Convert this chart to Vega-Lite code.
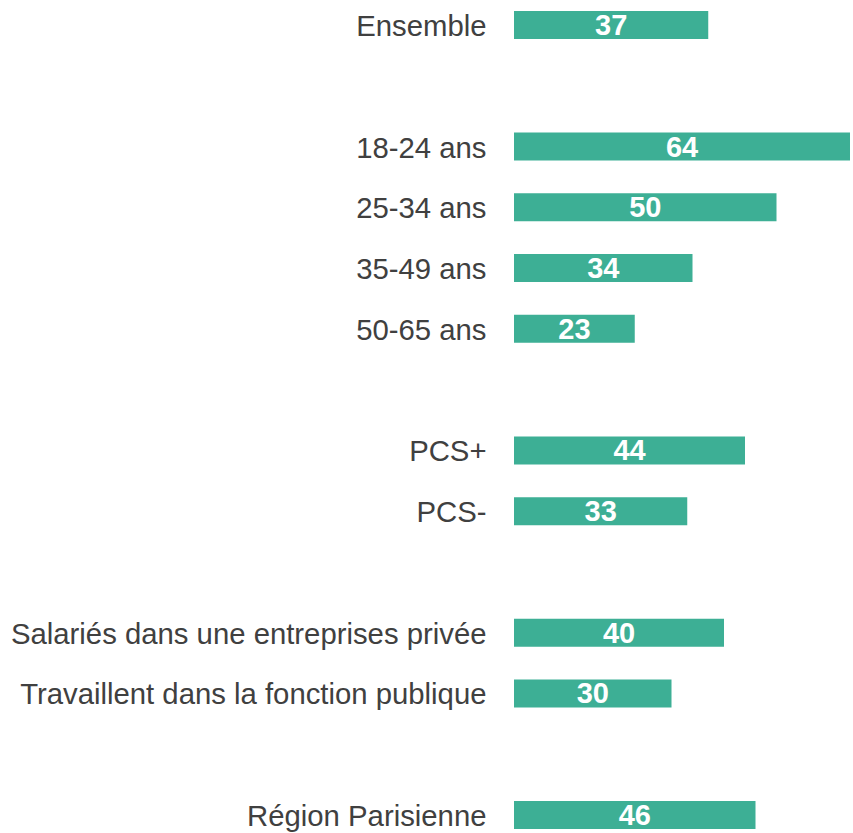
{
  "$schema": "https://vega.github.io/schema/vega-lite/v6.json",
  "width": 336,
  "height": 833,
  "autosize": {"type": "none"},
  "padding": {"left": 514, "top": 0, "right": 3, "bottom": 0},
  "background": "white",
  "config": {"view": {"stroke": null}, "font": "Liberation Sans"},
  "data": {
    "values": [
      {"label": "Ensemble", "value": 37},
      {"label": "18-24 ans", "value": 64},
      {"label": "25-34 ans", "value": 50},
      {"label": "35-49 ans", "value": 34},
      {"label": "50-65 ans", "value": 23},
      {"label": "PCS+", "value": 44},
      {"label": "PCS-", "value": 33},
      {"label": "Salariés dans une entreprises privée", "value": 40},
      {"label": "Travaillent dans la fonction publique", "value": 30},
      {"label": "Région Parisienne", "value": 46}
    ]
  },
  "encoding": {
    "y": {
      "field": "label",
      "type": "nominal",
      "sort": null,
      "scale": {
        "domain": ["Ensemble", " ", "18-24 ans", "25-34 ans", "35-49 ans", "50-65 ans", "  ", "PCS+", "PCS-", "   ", "Salariés dans une entreprises privée", "Travaillent dans la fonction publique", "    ", "Région Parisienne"],
        "paddingInner": 0.5392,
        "paddingOuter": 0.1235,
        "align": 0.733,
        "round": false
      },
      "axis": {
        "title": null,
        "domain": false,
        "ticks": false,
        "grid": false,
        "labelFontSize": 29.3,
        "labelColor": "#404040",
        "labelPadding": 28,
        "labelOffset": 2,
        "labelLimit": 700,
        "labelFont": "Liberation Sans"
      }
    }
  },
  "layer": [
    {
      "mark": {"type": "bar", "color": "#3DAF95"},
      "encoding": {
        "x": {
          "field": "value",
          "type": "quantitative",
          "scale": {"domain": [0, 64], "nice": false},
          "axis": null
        }
      }
    },
    {
      "mark": {"type": "text", "color": "white", "fontWeight": "bold", "fontSize": 29, "align": "center", "baseline": "middle", "dy": 1},
      "encoding": {
        "x": {
          "field": "value",
          "type": "quantitative",
          "scale": {"domain": [0, 128], "nice": false},
          "axis": null
        },
        "text": {"field": "value", "type": "quantitative"}
      }
    }
  ],
  "resolve": {"scale": {"x": "independent"}}
}
